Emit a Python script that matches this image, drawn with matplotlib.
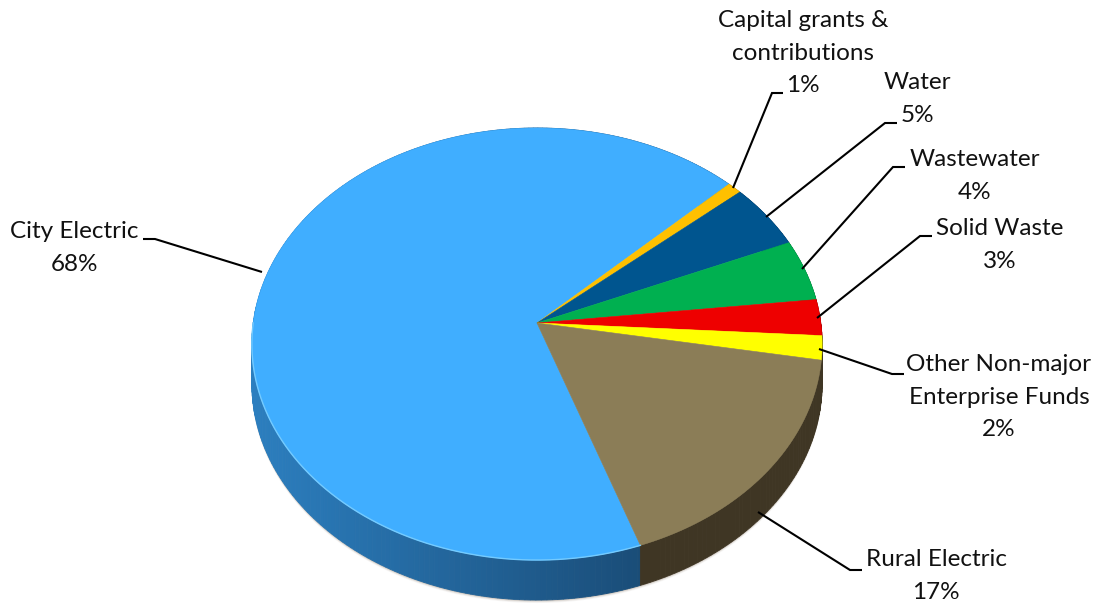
import numpy as np
import matplotlib
matplotlib.use("Agg")
import matplotlib.pyplot as plt
from matplotlib.patches import Polygon

categories = ["City Electric", "Capital grants &\ncontributions", "Water", "Wastewater",
              "Solid Waste", "Other Non-major\nEnterprise Funds", "Rural Electric"]
shares = [68.2, 0.9, 4.9, 4.6, 2.7, 1.8, 16.9]          # slice sizes
pct_labels = ["68%", "1%", "5%", "4%", "3%", "2%", "17%"]
top_colors = ["#40AEFF", "#FFC000", "#00558F", "#00B050", "#EE0000", "#FFFF00", "#8B7D57"]
side_colors = [None, "#8a6800", "#002c50", "#006030", "#800000", "#3F3624", "#3F3624"]

label_pos = [(74, 248), (803, 53), (917, 99), (975, 176), (1000, 245), (999, 397), (936, 576)]
leaders = [[(262, 272), (155, 239), (143, 239)],
           [(733, 188), (772, 93), (783, 93)],
           [(766, 217), (885, 123), (897, 123)],
           [(802, 269), (893, 167), (905, 167)],
           [(817, 318), (920, 236), (932, 236)],
           [(819, 349), (892, 374), (904, 374)],
           [(758, 512), (850, 570), (862, 570)]]

APEX = (537, 323); RX, RY, K = 283.8, 214.0, 0.0972
DEPTH = 40
START = 43.8   # upper end of the City Electric slice, degrees


def project(deg, r=1.0):
    t = np.radians(deg)
    x, y = r * np.cos(t), r * np.sin(t)
    w = 1 + K * y
    return APEX[0] + RX * x / w, APEX[1] - RY * y / w


fig = plt.figure(figsize=(10.98, 6.04), dpi=100, facecolor="white")
ax = fig.add_axes([0, 0, 1, 1])
ax.set_xlim(0, 1098); ax.set_ylim(604, 0); ax.axis("off")

# angular extents: City Electric runs counter-clockwise from START, others clockwise from START
spans = []
a = START
spans.append((a, a + shares[0] * 3.6))
for s in shares[1:]:
    spans.append((a - s * 3.6, a))
    a -= s * 3.6

# soft shadow under the wall
aa = np.arange(175, 372, 1.0)
px, py = project(aa)
for off, alpha in [(3.0, .06), (2.2, .10), (1.4, .16), (0.7, .22)]:
    ax.fill(np.r_[px, px[::-1]], np.r_[py + DEPTH + off, py[::-1]],
            color="#7a6a58", alpha=alpha, lw=0, zorder=1)

# wall
for i, (a0, a1) in enumerate(spans):
    grid = np.arange(a0, a1 + 1.0, 1.0)
    grid[-1] = a1
    for g0, g1 in zip(grid[:-1], grid[1:]):
        x0, y0 = project(g0); x1, y1 = project(g1)
        if side_colors[i] is None:
            f = np.clip((0.5 * (x0 + x1) - 250) / 390, 0, 1)
            col = tuple(np.array([0x2C, 0x7F, 0xC0]) / 255 * (1 - f) + np.array([0x1A, 0x4D, 0x78]) / 255 * f)
        else:
            col = side_colors[i]
        ax.add_patch(Polygon([(x0, y0), (x1, y1), (x1, y1 + DEPTH), (x0, y0 + DEPTH)],
                             facecolor=col, edgecolor=col, lw=0.6, zorder=2))

# top face
for (a0, a1), c in zip(spans, top_colors):
    grid = np.linspace(a0, a1, max(int((a1 - a0) * 2), 4))
    xs, ys = project(grid)
    ax.add_patch(Polygon(np.c_[np.r_[APEX[0], xs], np.r_[APEX[1], ys]], facecolor=c,
                         edgecolor=c, lw=0.4, zorder=3))

# light rim on the front of the City Electric face
hl = np.linspace(180, spans[0][1], 200)
hx, hy = project(hl)
ax.plot(hx, hy, color="#74CBFF", lw=1.0, zorder=4)

for pts in leaders:
    xs, ys = zip(*pts)
    ax.plot(xs, ys, color="black", lw=1.5, zorder=5, solid_joinstyle="miter", solid_capstyle="butt")

for name, pct, (x, y) in zip(categories, pct_labels, label_pos):
    ax.text(x, y, f"{name}\n{pct}", ha="center", va="center", family="Lato", fontsize=17.5,
            color="#111111", linespacing=1.68, zorder=6)

fig.savefig("out.png", dpi=100)
